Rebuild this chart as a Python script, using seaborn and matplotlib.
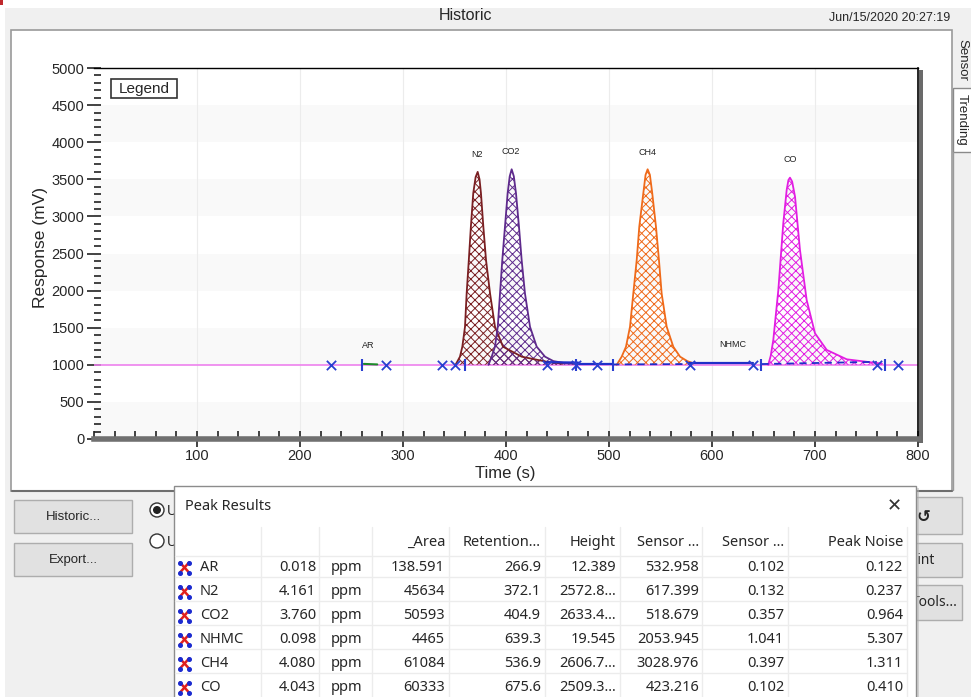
import numpy as np
import pandas as pd
import matplotlib
matplotlib.use("Agg")
import matplotlib.pyplot as plt
from matplotlib.patches import Rectangle, Circle
from matplotlib.ticker import MultipleLocator
import seaborn as sns

# ---------------- data ----------------
n2_t = [351, 355.3, 357.6, 360.2, 361.8, 363.9, 365.9, 368.2, 370.5, 372.5, 374.3, 375.7,
        378.0, 380.6, 384.5, 389.3, 397.1, 415.3, 440, 455]
n2_v = [1000, 1109, 1244, 1513, 1963, 2412, 2861, 3311, 3530, 3600, 3500, 3311,
        2861, 2412, 1963, 1513, 1244, 1109, 1040, 1015]
co2_t = [383, 386.1, 389.3, 392, 394.2, 396.4, 399, 401.6, 403.6, 405.5, 407.6, 409.7,
         412.6, 415.2, 418.4, 423.3, 429.8, 437.9, 446, 458, 470]
co2_v = [1000, 1109, 1244, 1513, 1963, 2412, 2861, 3311, 3540, 3635, 3540, 3311,
         2861, 2412, 1963, 1513, 1244, 1109, 1050, 1020, 1010]
ch4_t = [507.5, 512.3, 516.5, 520.4, 523.6, 526.9, 529.4, 533.3, 535.5, 537.5, 539.7, 542,
         545.6, 548.5, 551.1, 556, 562.4, 569, 576, 582]
ch4_v = [1000, 1109, 1244, 1513, 1963, 2412, 2861, 3311, 3560, 3635, 3560, 3311,
         2861, 2412, 1963, 1513, 1244, 1109, 1050, 1020]
co_t = [654.6, 657, 659.5, 664.4, 669.2, 672.5, 674.2, 675.7, 677.8, 680.6, 685.4, 691.9,
        700, 711.4, 730.8, 756.3, 765]
co_v = [1000, 1120, 1334, 2008, 2907, 3356, 3490, 3522, 3470, 3266, 2548, 1873,
        1424, 1200, 1074, 1030, 1015]
ar_t = [262, 275]
ar_v = [1012, 1005]

baseline_t = [0, 800]
baseline_v = [1000, 1000]

x_marks = [230, 283.5, 338, 350, 439.4, 468, 488.5, 578.4, 639.6, 760, 780.7]
bar_marks = [260.5, 360, 468, 503.5, 648, 768]

solid_seg_t = [[439, 470], [470, 503], [578, 640]]
solid_seg_v = [[1035, 1030], [1005, 1005], [1030, 1030]]
dash_seg_t = [[503, 578], [648, 760]]
dash_seg_v = [[1005, 1010], [1010, 1040]]

peak_labels = ["AR", "N2", "CO2", "CH4", "CO", "NHMC"]
label_t = [266.6, 372, 405, 537, 676, 620]
label_v = [1200, 3780, 3820, 3800, 3700, 1210]

peak_colors = {"N2": "#7a1f22", "CO2": "#5e2a8c", "CH4": "#ef6a1a", "CO": "#e21de2"}

# table
tbl_names = ["AR", "N2", "CO2", "NHMC", "CH4", "CO"]
tbl_conc = ["0.018", "4.161", "3.760", "0.098", "4.080", "4.043"]
tbl_unit = ["ppm"] * 6
tbl_area = ["138.591", "45634", "50593", "4465", "61084", "60333"]
tbl_ret = ["266.9", "372.1", "404.9", "639.3", "536.9", "675.6"]
tbl_height = ["12.389", "2572.8...", "2633.4...", "19.545", "2606.7...", "2509.3..."]
tbl_s1 = ["532.958", "617.399", "518.679", "2053.945", "3028.976", "423.216"]
tbl_s2 = ["0.102", "0.132", "0.357", "1.041", "0.397", "0.102"]
tbl_noise = ["0.122", "0.237", "0.964", "5.307", "1.311", "0.410"]
tbl_headers = ["_Area", "Retention...", "Height", "Sensor ...", "Sensor ...", "Peak Noise"]

# ---------------- figure ----------------
sns.set_theme(style="white")
plt.rcParams["font.family"] = ["Liberation Sans", "DejaVu Sans"]
plt.rcParams["hatch.linewidth"] = 0.7

W, H = 971, 697
fig = plt.figure(figsize=(W / 100, H / 100), dpi=100)
fig.patch.set_facecolor("white")

def px_axes(zorder):
    a = fig.add_axes([0, 0, 1, 1], zorder=zorder)
    a.set_xlim(0, W)
    a.set_ylim(H, 0)
    a.axis("off")
    return a

bg = px_axes(0)
GUI = "#f0f0f0"
bg.add_patch(Rectangle((5, 8), W, H, facecolor=GUI, edgecolor="none"))
bg.add_patch(Rectangle((0, 0), 3, 5, facecolor="#c0282d", edgecolor="none"))
bg.add_patch(Rectangle((11, 30), 941, 461, facecolor="white", edgecolor="#9a9a9a", lw=1.2))
bg.plot([12, 952], [491, 491], color="#6e6e6e", lw=1.5)
bg.text(465, 16, "Historic", ha="center", va="center", fontsize=11.5)
bg.text(950, 18, "Jun/15/2020 20:27:19", ha="right", va="center", fontsize=9)
# side tabs
bg.add_patch(Rectangle((953, 33), 18, 55, facecolor=GUI, edgecolor="none"))
bg.text(962, 60, "Sensor", rotation=270, ha="center", va="center", fontsize=9.5)
bg.add_patch(Rectangle((953, 88), 20, 64, facecolor="white", edgecolor="#8a8a8a", lw=1))
bg.text(962, 120, "Trending", rotation=270, ha="center", va="center", fontsize=9.5)
bg.plot([953, 953], [152, 490], color="#9a9a9a", lw=1)
# chart shadow on right side
bg.add_patch(Rectangle((919, 70), 4, 373, facecolor="#6a6a6a", edgecolor="none"))
# left buttons
for y0, lab in [(500, "Historic..."), (543, "Export...")]:
    bg.add_patch(Rectangle((14, y0), 118, 33, facecolor="#e1e1e1", edgecolor="#adadad", lw=1))
    bg.text(73, y0 + 17, lab, ha="center", va="center", fontsize=9.5)
bg.add_patch(Circle((157, 510), 7, facecolor="white", edgecolor="#333333", lw=1))
bg.add_patch(Circle((157, 510), 4, facecolor="#222222", edgecolor="none"))
bg.add_patch(Circle((157, 541), 7, facecolor="white", edgecolor="#333333", lw=1))
bg.text(167, 511, "U", ha="left", va="center", fontsize=10)
bg.text(167, 542, "U", ha="left", va="center", fontsize=10)
# right buttons (mostly hidden)
for y0, y1 in [(497, 534), (543, 577), (585, 620)]:
    bg.add_patch(Rectangle((880, y0), 82, y1 - y0, facecolor="#e1e1e1", edgecolor="#adadad", lw=1))
bg.text(924, 517, "\u21ba", ha="center", va="center", fontsize=12, family="DejaVu Sans", fontweight="bold")
bg.text(935, 560, "Print", ha="right", va="center", fontsize=10, family="Noto Sans")
bg.text(912, 602, "Tools...", ha="left", va="center", fontsize=10, family="Noto Sans")

# ---------------- chart ----------------
L, R, T, B = 94, 918, 68, 439
ax = fig.add_axes([L / W, (H - B) / H, (R - L) / W, (B - T) / H], zorder=1)
ax.set_facecolor("white")
ax.set_xlim(0, 800)
ax.set_ylim(0, 5000)
for lo in [0, 1000, 2000, 3000, 4000]:
    ax.axhspan(lo, lo + 500, color="#f9f9f9", lw=0, zorder=0)
for xv in range(100, 800, 100):
    ax.axvline(xv, color="#ececec", lw=0.8, zorder=0.5)

ax.plot(baseline_t, baseline_v, color="#ee82ee", lw=1.2, zorder=2)

df = pd.concat([
    pd.DataFrame({"time": n2_t, "response": n2_v, "peak": "N2"}),
    pd.DataFrame({"time": co2_t, "response": co2_v, "peak": "CO2"}),
    pd.DataFrame({"time": ch4_t, "response": ch4_v, "peak": "CH4"}),
    pd.DataFrame({"time": co_t, "response": co_v, "peak": "CO"}),
], ignore_index=True)

for name, g in df.groupby("peak", sort=False):
    ax.fill_between(g["time"], 1000, g["response"], facecolor="none",
                    edgecolor=peak_colors[name], hatch="xxxx", lw=0, zorder=3)
sns.lineplot(data=df, x="time", y="response", hue="peak", palette=peak_colors,
             estimator=None, sort=False, legend=False, lw=1.3, ax=ax, zorder=4)

ax.plot(ar_t, ar_v, color="#1d8a2a", lw=1.5, zorder=5)
for t, v in zip(solid_seg_t, solid_seg_v):
    ax.plot(t, v, color="#1f2fc8", lw=1.6, zorder=5)
for t, v in zip(dash_seg_t, dash_seg_v):
    ax.plot(t, v, color="#1f2fc8", lw=1.3, ls=(0, (4, 3)), zorder=5)
sns.scatterplot(x=x_marks, y=[1000] * len(x_marks), marker="x", s=45,
                color="#2a3fd0", linewidth=1.3, ax=ax, zorder=6)
sns.scatterplot(x=bar_marks, y=[1000] * len(bar_marks), marker="|", s=70,
                color="#2a3fd0", linewidth=1.5, ax=ax, zorder=6)

for lab, t, v in zip(peak_labels, label_t, label_v):
    ax.text(t, v, lab, ha="center", va="bottom", fontsize=6.5, color="#222222", zorder=7)

# axes styling
ax.spines["left"].set_visible(False)
ax.spines["top"].set_color("black")
ax.spines["top"].set_linewidth(1.0)
ax.spines["right"].set_color("black")
ax.spines["right"].set_linewidth(1.2)
ax.spines["bottom"].set_color("#707070")
ax.spines["bottom"].set_linewidth(4)
ax.spines["bottom"].set_zorder(8)

ax.xaxis.set_major_locator(MultipleLocator(100))
ax.xaxis.set_minor_locator(MultipleLocator(20))
ax.yaxis.set_major_locator(MultipleLocator(500))
ax.yaxis.set_minor_locator(MultipleLocator(100))
ax.yaxis.remove_overlapping_locs = False
ax.set_xticks(range(100, 801, 100))
ax.tick_params(axis="x", which="major", direction="inout", length=12, width=1.2,
               color="#222222", labelsize=10.5, pad=1, bottom=True)
ax.tick_params(axis="x", which="minor", direction="in", length=6, width=1.2,
               color="#222222", bottom=True)
ax.tick_params(axis="y", which="major", direction="out", length=5, width=1.2,
               color="#222222", labelsize=10.5, pad=2, left=True)
ax.tick_params(axis="y", which="minor", direction="in", length=5, width=1.2,
               color="#222222", left=True)
ax.set_xlabel("Time (s)", fontsize=12)
ax.set_ylabel("Response (mV)", fontsize=12.5)
ax.xaxis.set_label_coords((505 - L) / (R - L), (B - 466) / (B - T))
ax.yaxis.set_label_coords((48 - L) / (R - L), (B - 247) / (B - T))

# ---------------- foreground: legend box + popup ----------------
fg = px_axes(2)
fg.add_patch(Rectangle((111, 79), 66, 19, facecolor="white", edgecolor="#333333", lw=1.2))
fg.text(144, 88.5, "Legend", ha="center", va="center", fontsize=11)

# popup window
fg.add_patch(Rectangle((176, 488), 743, 215, facecolor="#b0b0b0", edgecolor="none", alpha=0.5))
fg.add_patch(Rectangle((174, 486), 742, 215, facecolor="white", edgecolor="#8c8c8c", lw=1))
PF = "Noto Sans"
fg.text(185, 507, "Peak Results", ha="left", va="center", fontsize=10.5, family=PF)
fg.text(894, 506, "\u2715", ha="center", va="center", fontsize=13, family="DejaVu Sans", color="#333333")

col_lines = [261, 319, 372, 449, 545, 620, 702, 788, 907]
for xc in col_lines:
    fg.plot([xc, xc], [527, 697], color="#ececec", lw=1)
for yr in [556, 577, 601, 625, 649, 673]:
    fg.plot([175, 907], [yr, yr], color="#ececec", lw=1)

hdr_right = [445, 541, 616, 699, 784, 903]
for xr, h in zip(hdr_right, tbl_headers):
    fg.text(xr, 542, h, ha="right", va="center", fontsize=10.5, family=PF)

row_y = [567.5, 591.5, 615.5, 639.5, 663.5, 687.5]
for i, y in enumerate(row_y):
    y0, y1 = y - 5, y + 5
    # row icon: red cross with blue end dots
    fg.plot([180, 189], [y0, y1], color="#e0201e", lw=1.8, solid_capstyle="round")
    fg.plot([180, 189], [y1, y0], color="#e0201e", lw=1.8, solid_capstyle="round")
    fg.plot([180, 189, 180, 189], [y0, y1, y1, y0],
            ls="none", marker="o", ms=2.6, color="#1a2ad0")
    fg.text(200, y, tbl_names[i], ha="left", va="center", fontsize=10.5, family=PF)
    fg.text(316, y, tbl_conc[i], ha="right", va="center", fontsize=10.5, family=PF)
    fg.text(331, y, tbl_unit[i], ha="left", va="center", fontsize=10.5, family=PF)
    fg.text(445, y, tbl_area[i], ha="right", va="center", fontsize=10.5, family=PF)
    fg.text(541, y, tbl_ret[i], ha="right", va="center", fontsize=10.5, family=PF)
    fg.text(616, y, tbl_height[i], ha="right", va="center", fontsize=10.5, family=PF)
    fg.text(699, y, tbl_s1[i], ha="right", va="center", fontsize=10.5, family=PF)
    fg.text(784, y, tbl_s2[i], ha="right", va="center", fontsize=10.5, family=PF)
    fg.text(903, y, tbl_noise[i], ha="right", va="center", fontsize=10.5, family=PF)

fig.savefig("out.png", dpi=100)
